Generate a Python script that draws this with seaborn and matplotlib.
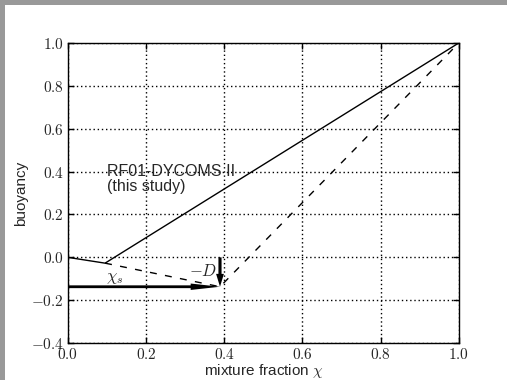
import matplotlib
matplotlib.use("Agg")
import matplotlib.pyplot as plt
import seaborn as sns
import pandas as pd
from matplotlib.patches import Rectangle

sns.set_style("ticks")
plt.rcParams['font.family'] = ['Liberation Sans', 'DejaVu Sans']
plt.rcParams['mathtext.fontset'] = 'cm'

# mixing line points (chi, buoyancy)
chi_mix = [0.0, 0.095, 1.0]
b_mix = [0.0, -0.027, 1.0]
chi_dash = [0.095, 0.389, 1.0]
b_dash = [-0.027, -0.137, 1.0]
chi_star = 0.389
b_star = -0.137
xticks = [0.0, 0.2, 0.4, 0.6, 0.8, 1.0]
yticks = [-0.4, -0.2, 0.0, 0.2, 0.4, 0.6, 0.8, 1.0]

fig = plt.figure(figsize=(5.07, 3.8), dpi=100)
ax = fig.add_axes([0.134, 0.097, 0.771, 0.79])

df1 = pd.DataFrame({'chi': chi_mix, 'b': b_mix})
df2 = pd.DataFrame({'chi': chi_dash, 'b': b_dash})
sns.lineplot(data=df1, x='chi', y='b', color='k', lw=1.0, sort=False, ax=ax)
sns.lineplot(data=df2, x='chi', y='b', color='k', lw=1.0, sort=False, ax=ax,
             linestyle=(0, (5, 6)))

# horizontal and vertical arrows to the saturation point
ax.arrow(0.0, b_star, chi_star, 0.0, width=0.013, head_width=0.03,
         head_length=0.075, length_includes_head=True, color='k', lw=0,
         zorder=3)
ax.arrow(chi_star, 0.0, 0.0, b_star, width=0.008, head_width=0.02,
         head_length=0.06, length_includes_head=True, color='k', lw=0,
         zorder=3)
ax.text(0.345, -0.065, r'$-D$', fontsize=12, ha='center', va='center')
ax.text(0.12, -0.097, r'$\chi_s$', fontsize=12, ha='center', va='center')
ax.text(0.1, 0.365, 'RF01-DYCOMS II\n(this study)', fontsize=11.5,
        ha='left', va='center', linespacing=1.0)

ax.set_xlim(0, 1)
ax.set_ylim(-0.4, 1.0)
ax.set_xticks(xticks)
ax.set_yticks(yticks)
ax.set_xticklabels([r'$%.1f$' % v for v in xticks])
ax.set_yticklabels([r'$%.1f$' % v for v in yticks])
ax.tick_params(direction='in', top=True, right=True, length=4, width=1,
               labelsize=11, color='k', pad=3)
ax.grid(True, color='k', linestyle=(0, (1, 2)), lw=1.0)
for s in ax.spines.values():
    s.set_color('k')
    s.set_linewidth(1.0)
ax.set_xlabel(r'mixture fraction $\chi$', fontsize=11, labelpad=0)
ax.set_ylabel('buoyancy', fontsize=11, labelpad=2)

# grey frame strips at top and left edge
fig.add_artist(Rectangle((0, 0.987), 1, 0.013, transform=fig.transFigure,
                         color='#999999', lw=0))
fig.add_artist(Rectangle((0, 0), 0.01, 1, transform=fig.transFigure,
                         color='#999999', lw=0))

fig.savefig('out.png', dpi=100)
